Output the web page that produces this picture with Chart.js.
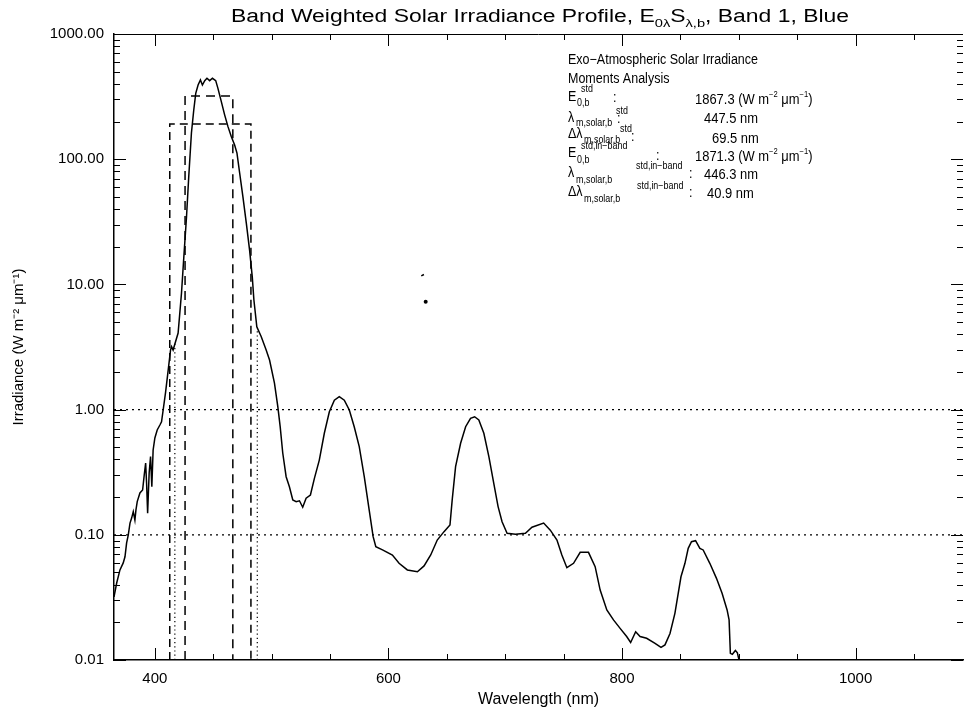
<!DOCTYPE html>
<html><head><meta charset="utf-8">
<script src="https://cdn.jsdelivr.net/npm/chart.js@4.4.0/dist/chart.umd.min.js"></script>
<style>html,body{margin:0;padding:0;background:#fff;}#wrap{width:967px;height:712px;}</style>
</head><body><div id="wrap"><canvas id="c" width="967" height="712"></canvas></div>
<script>
// ---------------- data ----------------
const wavelengthNm = [365.0, 367.3, 370.1, 372.9, 374.4, 375.8, 377.2, 378.7, 380.1, 381.5,
  382.9, 383.8, 384.9, 387.2, 389.5, 390.9, 392.1, 392.9, 393.8, 395.1,
  396.3, 397.4, 398.5, 400.0, 402.0, 404.3, 405.7, 407.1, 409.1, 411.4,
  413.4, 414.3, 415.6, 419.9, 422.8, 424.8, 427.1, 429.0, 431.3, 433.3,
  435.0, 437.0, 439.0, 440.7, 442.7, 444.6, 446.9, 449.3, 452.1, 454.0,
  456.9, 459.8, 462.6, 465.5, 468.3, 470.3, 472.6, 475.4, 478.3, 481.1,
  483.4, 484.8, 487.3, 491.1, 495.3, 498.2, 502.4, 505.3, 507.3, 509.5,
  512.4, 515.2, 518.1, 521.0, 523.8, 526.6, 529.5, 533.2, 536.6, 540.8,
  545.1, 549.4, 553.7, 557.9, 562.2, 566.5, 570.7, 575.0, 579.3, 583.5,
  586.9, 589.2, 594.9, 603.4, 609.1, 616.2, 624.8, 630.5, 636.2, 641.8,
  647.6, 652.7, 654.6, 657.5, 661.8, 666.1, 670.3, 673.8, 677.4, 681.7,
  686.0, 690.2, 693.9, 697.3, 701.6, 708.8, 717.3, 722.9, 732.9, 738.6,
  744.3, 748.5, 752.8, 758.5, 764.2, 771.3, 777.0, 781.3, 787.0, 792.7,
  798.4, 804.0, 807.4, 811.7, 815.5, 821.1, 828.3, 833.4, 836.8, 841.1,
  845.3, 850.5, 853.9, 856.7, 859.5, 863.0, 866.7, 869.5, 875.2, 880.9,
  885.7, 890.0, 891.7, 892.8, 894.5, 897.1, 898.8, 900.2, 1092];
const irradiance = [0.0319, 0.0412, 0.0524, 0.0596, 0.0668, 0.0861, 0.0995, 0.124, 0.136, 0.153,
  0.131, 0.158, 0.184, 0.216, 0.228, 0.301, 0.374, 0.259, 0.149, 0.312,
  0.421, 0.242, 0.476, 0.593, 0.687, 0.753, 0.80, 0.993, 1.36, 2.07,
  2.99, 3.18, 2.99, 4.09, 8.54, 16.6, 34.7, 72.5, 162, 247,
  336, 391, 430, 391, 424, 443, 424, 443, 424, 368,
  288, 225, 182, 151, 130, 112, 77.6, 50.1, 30.9, 18.8,
  11.5, 7.50, 4.59, 3.82, 2.99, 2.49, 1.63, 1.05, 0.730, 0.450,
  0.291, 0.242, 0.190, 0.184, 0.187, 0.166, 0.196, 0.208, 0.282, 0.395,
  0.647, 0.962, 1.19, 1.27, 1.19, 0.993, 0.730, 0.506, 0.291, 0.158,
  0.0966, 0.0804, 0.0757, 0.0690, 0.0592, 0.0524, 0.0507, 0.0564, 0.0690, 0.0908,
  0.106, 0.120, 0.190, 0.350, 0.538, 0.730, 0.851, 0.877, 0.826, 0.647,
  0.421, 0.258, 0.168, 0.127, 0.103, 0.101, 0.103, 0.115, 0.124, 0.109,
  0.0908, 0.0690, 0.0546, 0.0592, 0.0724, 0.0724, 0.0556, 0.0362, 0.0251, 0.0209,
  0.0179, 0.0154, 0.0138, 0.0168, 0.0154, 0.0149, 0.0136, 0.0126, 0.0132, 0.0163,
  0.0236, 0.0462, 0.0592, 0.0780, 0.0881, 0.0897, 0.0780, 0.0757, 0.0592, 0.0449,
  0.0341, 0.0251, 0.0209, 0.0113, 0.0111, 0.0119, 0.0114, 0.0100, 0.0100];

// std band rectangle (centre 447.5 nm, width 69.5 nm) and in-band rectangle (446.3 nm, 40.9 nm)
const stdBandX = [412.75, 412.75, 482.25, 482.25];
const stdBandY = [0.01, 191, 191, 0.01];
const inBandX = [425.85, 425.85, 466.75, 466.75];
const inBandY = [0.01, 320, 320, 0.01];
// dotted band-limit markers
const limitLowX = [417.1, 417.1];
const limitLowY = [0.01, 3.4];
const limitHighX = [487.7, 487.7];
const limitHighY = [0.01, 4.5];
// dotted reference levels
const refLevels = [1, 0.1];
// stray marks in the picture
const strayDashX = [628.1, 630.4];
const strayDashY = [11.7, 12.0];
const strayDotX = [631.9];
const strayDotY = [7.28];

const xRange = [365, 1092];
const yRange = [0.01, 1000];
const xTickValues = [400, 600, 800, 1000];
const xTickLabels = ['400', '600', '800', '1000'];
const xMinorStep = 50;
const yTickValues = [0.01, 0.1, 1, 10, 100, 1000];
const yTickLabels = ['0.01', '0.10', '1.00', '10.00', '100.00', '1000.00'];

// ---------------- chart ----------------
const FONT = "'Liberation Sans', Arial, sans-serif";
const pts = (xs, ys) => xs.map((x, i) => ({x: x, y: ys[i]}));
const lineDs = (data, extra) => Object.assign({data: data, borderColor: '#000', backgroundColor: '#000',
  borderWidth: 1.2, pointRadius: 0, tension: 0, fill: false}, extra);

const datasets = [
  lineDs(pts(wavelengthNm, irradiance), {borderWidth: 1.5}),
  lineDs(pts(stdBandX, stdBandY), {borderDash: [8, 5], borderWidth: 1.5}),
  lineDs(pts(inBandX, inBandY), {borderDash: [9, 6], borderWidth: 1.5}),
  lineDs(pts(limitLowX, limitLowY), {borderDash: [1.2, 3]}),
  lineDs(pts(limitHighX, limitHighY), {borderDash: [1.2, 3]}),
  lineDs(pts(strayDashX, strayDashY), {borderWidth: 1.5}),
  lineDs(pts(strayDotX, strayDotY), {showLine: false, pointRadius: 2, pointBorderWidth: 0})
];
refLevels.forEach(v => datasets.push(lineDs(pts(xRange, [v, v]), {borderDash: [2, 4], borderWidth: 1.3})));

const axisDecor = {
  id: 'axisDecor',
  afterDatasetsDraw(chart) {
    const {ctx, chartArea: a, scales: {x, y}} = chart;
    ctx.save();
    ctx.strokeStyle = '#000';
    ctx.lineWidth = 1;
    ctx.beginPath();
    ctx.moveTo(a.left, a.top + 0.5); ctx.lineTo(a.right, a.top + 0.5);
    for (let v = Math.ceil(xRange[0] / xMinorStep) * xMinorStep; v <= xRange[1]; v += xMinorStep) {
      const px = Math.round(x.getPixelForValue(v)) + 0.5;
      const len = xTickValues.includes(v) ? 12 : 6;
      ctx.moveTo(px, a.bottom); ctx.lineTo(px, a.bottom - len);
      ctx.moveTo(px, a.top); ctx.lineTo(px, a.top + len);
    }
    for (let d = 0; d < yTickValues.length; d++) {
      const dec = yTickValues[d];
      for (let m = 1; m < 10; m++) {
        const v = dec * m;
        if (v > yRange[1] * 1.0001) break;
        const py = Math.round(y.getPixelForValue(v)) + 0.5;
        const len = m === 1 ? 12 : 6;
        ctx.moveTo(a.left, py); ctx.lineTo(a.left + len, py);
        ctx.moveTo(a.right, py); ctx.lineTo(a.right - len, py);
      }
    }
    ctx.stroke();
    ctx.restore();
  }
};

function drawSeq(ctx, parts, x, y, size, subSize) {
  let cx = x;
  parts.forEach(([t, k]) => {
    const s = k === 0 ? size : subSize;
    const dy = k === 1 ? -size * 0.45 : (k === 2 ? size * 0.3 : 0);
    ctx.font = s + 'px ' + FONT;
    ctx.fillText(t, cx, y + dy);
    cx += ctx.measureText(t).width;
  });
  return cx - x;
}
function measureSeq(ctx, parts, size, subSize) {
  let w = 0;
  parts.forEach(([t, k]) => { ctx.font = (k === 0 ? size : subSize) + 'px ' + FONT; w += ctx.measureText(t).width; });
  return w;
}

const titleParts = [['Band Weighted Solar Irradiance Profile, E', 0], ['0λ', 2], ['S', 0], ['λ,b', 2], [', Band 1, Blue', 0]];

const annotPieces = [
  {t: 'Exo−Atmospheric Solar Irradiance', x: 568, y: 64, s: 14},
  {t: 'Moments Analysis', x: 568, y: 83, s: 14},
  {t: 'E', x: 568, y: 101, s: 14}, {t: '0,b', x: 577, y: 106, s: 10}, {t: 'std', x: 581, y: 92, s: 10}, {t: ':', x: 613, y: 102, s: 14},
  {t: 'λ', x: 568, y: 122, s: 14}, {t: 'm,solar,b', x: 576, y: 126, s: 10}, {t: 'std', x: 616, y: 114, s: 10}, {t: ':', x: 617, y: 123, s: 14},
  {t: 'Δλ', x: 568, y: 138, s: 14}, {t: 'm,solar,b', x: 584, y: 143, s: 10}, {t: 'std', x: 620, y: 132, s: 10}, {t: ':', x: 631, y: 141, s: 14},
  {t: 'E', x: 568, y: 157, s: 14}, {t: '0,b', x: 577, y: 163, s: 10}, {t: 'std,in−band', x: 581, y: 149, s: 10}, {t: ':', x: 656, y: 160, s: 14},
  {t: 'λ', x: 568, y: 177, s: 14}, {t: 'm,solar,b', x: 576, y: 183, s: 10}, {t: 'std,in−band', x: 636, y: 169, s: 10}, {t: ':', x: 689, y: 178, s: 14},
  {t: 'Δλ', x: 568, y: 196, s: 14}, {t: 'm,solar,b', x: 584, y: 202, s: 10}, {t: 'std,in−band', x: 637, y: 189, s: 10}, {t: ':', x: 689, y: 197, s: 14}
];
const unitParts = [[' (W m', 0], ['−2', 1], [' μm', 0], ['−1', 1], [')', 0]];
const annotValues = [
  {parts: [['1867.3', 0]].concat(unitParts), x: 695, y: 104},
  {parts: [['447.5 nm', 0]], x: 704, y: 123},
  {parts: [['69.5 nm', 0]], x: 712, y: 143},
  {parts: [['1871.3', 0]].concat(unitParts), x: 695, y: 161},
  {parts: [['446.3 nm', 0]], x: 704, y: 179},
  {parts: [['40.9 nm', 0]], x: 707, y: 198}
];

const textPlugin = {
  id: 'textPlugin',
  afterDraw(chart) {
    const ctx = chart.ctx;
    ctx.save();
    ctx.fillStyle = '#000';
    ctx.textBaseline = 'alphabetic';
    ctx.textAlign = 'left';
    // title
    const tw = measureSeq(ctx, titleParts, 18, 11.5);
    const sx = Math.min(1.3, Math.max(0.85, 618 / tw));
    ctx.save();
    ctx.translate(540 - tw * sx / 2, 22);
    ctx.scale(sx, 1);
    drawSeq(ctx, titleParts, 0, 0, 18, 11.5);
    ctx.restore();
    // annotation block
    ctx.font = '14px ' + FONT;
    const aw = ctx.measureText(annotPieces[0].t).width;
    const sa = Math.min(1.1, Math.max(0.8, 190 / aw));
    annotPieces.forEach(p => {
      ctx.save();
      ctx.translate(p.x, p.y);
      ctx.scale(sa, 1);
      ctx.font = p.s + 'px ' + FONT;
      ctx.fillText(p.t, 0, 0);
      ctx.restore();
    });
    annotValues.forEach(v => {
      ctx.save();
      ctx.translate(v.x, v.y);
      ctx.scale(sa, 1);
      drawSeq(ctx, v.parts, 0, 0, 14.5, 8.5);
      ctx.restore();
    });
    ctx.restore();
  }
};

new Chart(document.getElementById('c'), {
  type: 'line',
  data: {datasets: datasets},
  options: {
    responsive: false,
    animation: false,
    layout: {padding: {top: 34, right: 0, bottom: 0, left: 0}},
    plugins: {legend: {display: false}, tooltip: {enabled: false}, title: {display: false}},
    scales: {
      x: {
        type: 'linear', min: xRange[0], max: xRange[1],
        grid: {display: false, drawTicks: false},
        border: {display: true, color: '#000', width: 1.5},
        afterBuildTicks: s => { s.ticks = xTickValues.map(v => ({value: v})); },
        afterFit: s => { s.height = 52; },
        ticks: {
          color: '#000', padding: 10, autoSkip: false, maxRotation: 0,
          font: {family: FONT, size: 15},
          callback: v => { const i = xTickValues.indexOf(v); return i >= 0 ? xTickLabels[i] : ''; }
        },
        title: {display: true, text: 'Wavelength (nm)', color: '#000', font: {family: FONT, size: 16}, padding: {top: 0, bottom: 3}}
      },
      y: {
        type: 'logarithmic', min: yRange[0], max: yRange[1],
        grid: {display: false, drawTicks: false},
        border: {display: true, color: '#000', width: 1.5},
        afterBuildTicks: s => { s.ticks = yTickValues.map(v => ({value: v})); },
        afterFit: s => { s.width = 114; },
        ticks: {
          color: '#000', padding: 10, autoSkip: false,
          font: {family: FONT, size: 15},
          callback: v => { const i = yTickValues.findIndex(t => Math.abs(t - v) / t < 1e-6); return i >= 0 ? yTickLabels[i] : ''; }
        },
        title: {display: true, text: 'Irradiance (W m⁻² μm⁻¹)', color: '#000', font: {family: FONT, size: 15}, padding: {top: 10, bottom: 0}}
      }
    }
  },
  plugins: [axisDecor, textPlugin]
});
</script>
</body></html>
